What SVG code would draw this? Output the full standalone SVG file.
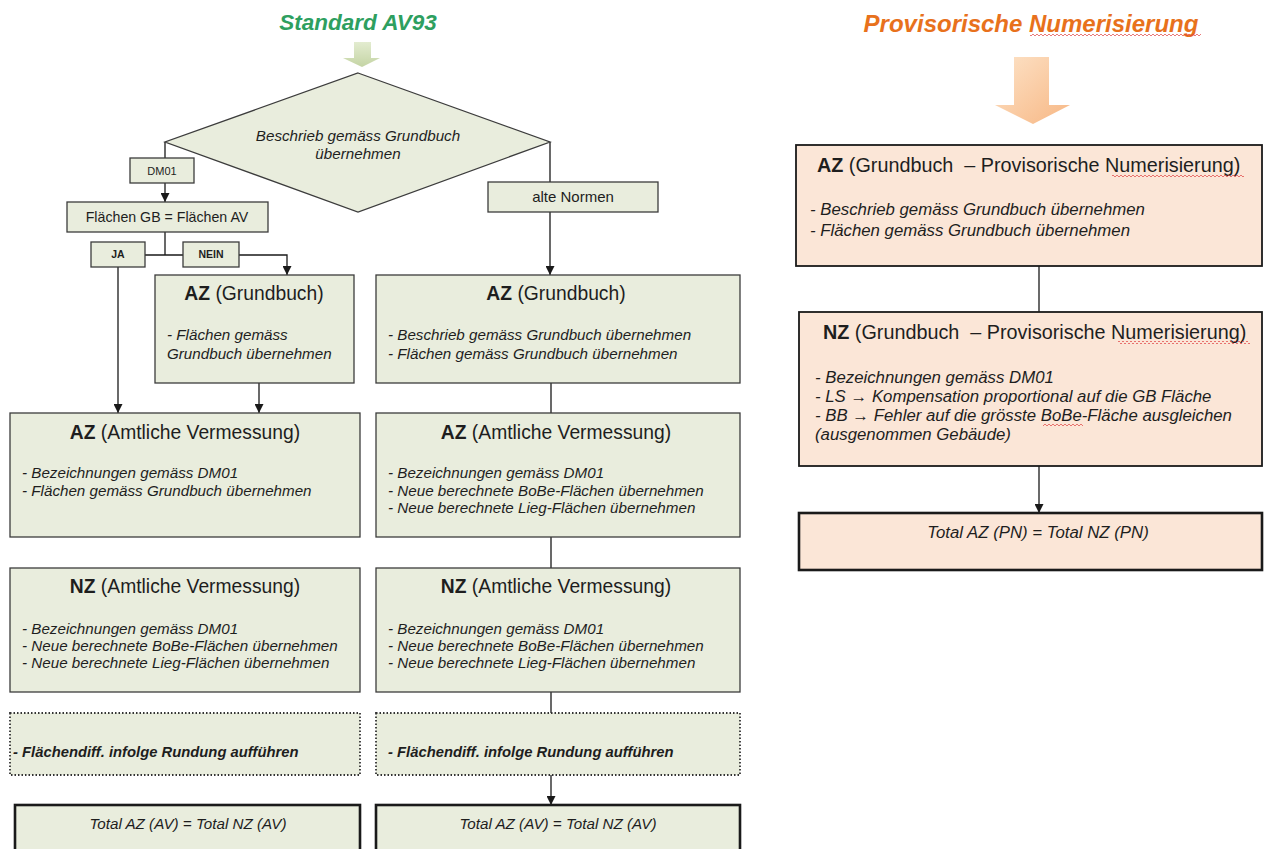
<svg xmlns="http://www.w3.org/2000/svg" width="1266" height="849" viewBox="0 0 1266 849">
<style>
text{font-family:"Liberation Sans",Arial,sans-serif;fill:#1e1e1e}
.g{fill:#e9eddd;stroke:#3c3c3c;stroke-width:1.3}
.o{fill:#fbe6d7;stroke:#1a1a1a;stroke-width:1.8}
.dot{fill:#e9eddd;stroke:#333;stroke-width:1.8;stroke-dasharray:1.5 2}
.thick{fill:#e9eddd;stroke:#1a1a1a;stroke-width:2.6}
.othick{fill:#fbe6d7;stroke:#1a1a1a;stroke-width:2.6}
.t{font-size:19.3px;text-anchor:middle}
.tb{font-weight:bold}
.b{font-size:15.2px;font-style:italic}
.bo{font-size:16.8px;font-style:italic}
.pt{font-size:19.8px}
.c{text-anchor:middle}
.ln{fill:none;stroke:#1a1a1a;stroke-width:1.3}
</style>
<defs>
<marker id="ah" viewBox="0 0 10 10" refX="10" refY="5" markerWidth="9" markerHeight="9" markerUnits="userSpaceOnUse" orient="auto">
<path d="M0,0 L10,5 L0,10 z" fill="#1a1a1a"/>
</marker>
<linearGradient id="ga" x1="0" y1="0" x2="0" y2="1">
<stop offset="0" stop-color="#e3ecd0"/><stop offset="1" stop-color="#c4d4a4"/>
</linearGradient>
<linearGradient id="oa" x1="0" y1="0" x2="1" y2="1">
<stop offset="0" stop-color="#fde3c8"/><stop offset="1" stop-color="#f7b784"/>
</linearGradient>
<pattern id="wave" width="4" height="3" patternUnits="userSpaceOnUse">
<path d="M0,2 Q1,0 2,2 T4,2" fill="none" stroke="#e04040" stroke-width="0.7"/>
</pattern>
</defs>

<!-- titles -->
<text x="358" y="30" style="font-size:22.5px;font-weight:bold;font-style:italic;fill:#2e9f5f;text-anchor:middle">Standard AV93</text>
<text x="1031" y="32" style="font-size:24px;font-weight:bold;font-style:italic;fill:#e8711c;text-anchor:middle">Provisorische Numerisierung</text>
<rect x="1030" y="33" width="171" height="3" fill="url(#wave)"/>

<!-- big arrows -->
<path d="M354,42 H371 V58 H380 L362,67 L343,58 H354 Z" fill="url(#ga)"/>
<path d="M1014,57 H1049 V105 H1070 L1033,124 L995,105 H1014 Z" fill="url(#oa)"/>

<!-- connectors -->
<g id="connectors">
<path class="ln" d="M165,142 V158"/>
<path class="ln" d="M165,183 V202" marker-end="url(#ah)"/>
<path class="ln" d="M165,232 V255 M145,255 H183"/>
<path class="ln" d="M239,255 H287 V275" marker-end="url(#ah)"/>
<path class="ln" d="M118,267 V413" marker-end="url(#ah)"/>
<path class="ln" d="M259,383 V413" marker-end="url(#ah)"/>
<path class="ln" d="M550,142 V182"/>
<path class="ln" d="M550,212 V275" marker-end="url(#ah)"/>
<path class="ln" d="M551,383 V413 M551,537 V568 M551,692 V713"/>
<path class="ln" d="M551,775 V805" marker-end="url(#ah)"/>
<path class="ln" d="M1039,266 V312"/>
<path class="ln" d="M1039,466 V513" marker-end="url(#ah)"/>
</g>

<!-- decision -->
<g id="decision">
<polygon class="g" points="358,73 550,142 358,212 165,142"/>
<text class="b c" x="358" y="141">Beschrieb gemäss Grundbuch</text>
<text class="b c" x="358" y="159">übernehmen</text>
</g>

<g id="dm01">
<rect class="g" x="130" y="158" width="64" height="25"/>
<text class="c" x="162" y="174.5" style="font-size:11px">DM01</text>
</g>

<g id="flaechen">
<rect class="g" x="67" y="202" width="201" height="30"/>
<text class="c" x="167" y="222" style="font-size:14.2px">Flächen GB = Flächen AV</text>
</g>

<g id="ja">
<rect class="g" x="91" y="242" width="54" height="25"/>
<text class="c" x="118" y="258" style="font-size:10.5px;font-weight:bold">JA</text>
</g>

<g id="nein">
<rect class="g" x="183" y="242" width="56" height="25"/>
<text class="c" x="211" y="258" style="font-size:10.5px;font-weight:bold">NEIN</text>
</g>

<g id="altenormen">
<rect class="g" x="488" y="182" width="170" height="30"/>
<text class="c" x="573" y="202" style="font-size:15px">alte Normen</text>
</g>

<!-- left column -->
<g id="az-gb-left">
<rect class="g" x="155" y="275" width="199" height="108"/>
<text class="t" x="254" y="300"><tspan class="tb">AZ</tspan> (Grundbuch)</text>
<text class="b" x="167" y="340">- Flächen gemäss</text>
<text class="b" x="167" y="359">Grundbuch übernehmen</text>
</g>

<g id="az-av-left">
<rect class="g" x="10" y="413" width="350" height="124"/>
<text class="t" x="185" y="439"><tspan class="tb">AZ</tspan> (Amtliche Vermessung)</text>
<text class="b" x="22" y="478">- Bezeichnungen gemäss DM01</text>
<text class="b" x="22" y="496">- Flächen gemäss Grundbuch übernehmen</text>
</g>

<g id="nz-av-left">
<rect class="g" x="10" y="568" width="350" height="124"/>
<text class="t" x="185" y="593"><tspan class="tb">NZ</tspan> (Amtliche Vermessung)</text>
<text class="b" x="22" y="634">- Bezeichnungen gemäss DM01</text>
<text class="b" x="22" y="651">- Neue berechnete BoBe-Flächen übernehmen</text>
<text class="b" x="22" y="668">- Neue berechnete Lieg-Flächen übernehmen</text>
</g>

<g id="diff-left">
<rect class="dot" x="10" y="713" width="350" height="62"/>
<text class="b" x="13" y="757" style="font-weight:bold;font-size:14.8px">- Flächendiff. infolge Rundung aufführen</text>
</g>

<g id="total-left">
<rect class="thick" x="15" y="805" width="345" height="60"/>
<text class="b c" x="188" y="829">Total AZ (AV) = Total NZ (AV)</text>
</g>

<!-- middle column -->
<g id="az-gb-right">
<rect class="g" x="376" y="275" width="364" height="108"/>
<text class="t" x="556" y="300"><tspan class="tb">AZ</tspan> (Grundbuch)</text>
<text class="b" x="388" y="340">- Beschrieb gemäss Grundbuch übernehmen</text>
<text class="b" x="388" y="359">- Flächen gemäss Grundbuch übernehmen</text>
</g>

<g id="az-av-right">
<rect class="g" x="376" y="413" width="364" height="124"/>
<text class="t" x="556" y="439"><tspan class="tb">AZ</tspan> (Amtliche Vermessung)</text>
<text class="b" x="388" y="478">- Bezeichnungen gemäss DM01</text>
<text class="b" x="388" y="496">- Neue berechnete BoBe-Flächen übernehmen</text>
<text class="b" x="388" y="513">- Neue berechnete Lieg-Flächen übernehmen</text>
</g>

<g id="nz-av-right">
<rect class="g" x="376" y="568" width="364" height="124"/>
<text class="t" x="556" y="593"><tspan class="tb">NZ</tspan> (Amtliche Vermessung)</text>
<text class="b" x="388" y="634">- Bezeichnungen gemäss DM01</text>
<text class="b" x="388" y="651">- Neue berechnete BoBe-Flächen übernehmen</text>
<text class="b" x="388" y="668">- Neue berechnete Lieg-Flächen übernehmen</text>
</g>

<g id="diff-right">
<rect class="dot" x="376" y="713" width="364" height="62"/>
<text class="b" x="388" y="757" style="font-weight:bold;font-size:14.8px">- Flächendiff. infolge Rundung aufführen</text>
</g>

<g id="total-right">
<rect class="thick" x="376" y="805" width="364" height="60"/>
<text class="b c" x="558" y="829">Total AZ (AV) = Total NZ (AV)</text>
</g>

<!-- right column -->
<g id="az-pn">
<rect class="o" x="796" y="145" width="466" height="121"/>
<text class="pt" x="817" y="172" xml:space="preserve"><tspan class="tb">AZ</tspan> (Grundbuch  – Provisorische Numerisierung)</text>
<rect x="1112" y="174" width="132" height="3" fill="url(#wave)"/>
<text class="bo" x="810" y="215">- Beschrieb gemäss Grundbuch übernehmen</text>
<text class="bo" x="810" y="236">- Flächen gemäss Grundbuch übernehmen</text>
</g>

<g id="nz-pn">
<rect class="o" x="799" y="312" width="463" height="154"/>
<text class="pt" x="823" y="339" xml:space="preserve"><tspan class="tb">NZ</tspan> (Grundbuch  – Provisorische Numerisierung)</text>
<rect x="1118" y="341" width="132" height="3" fill="url(#wave)"/>
<text class="bo" x="815" y="383">- Bezeichnungen gemäss DM01</text>
<text class="bo" x="815" y="402">- LS → Kompensation proportional auf die GB Fläche</text>
<text class="bo" x="815" y="421">- BB → Fehler auf die grösste BoBe-Fläche ausgleichen</text>
<rect x="1043" y="423" width="40" height="3" fill="url(#wave)"/>
<text class="bo" x="815" y="440">(ausgenommen Gebäude)</text>
</g>

<g id="total-pn">
<rect class="othick" x="799" y="513" width="463" height="57"/>
<text class="bo c" x="1038" y="538">Total AZ (PN) = Total NZ (PN)</text>
</g>
</svg>
